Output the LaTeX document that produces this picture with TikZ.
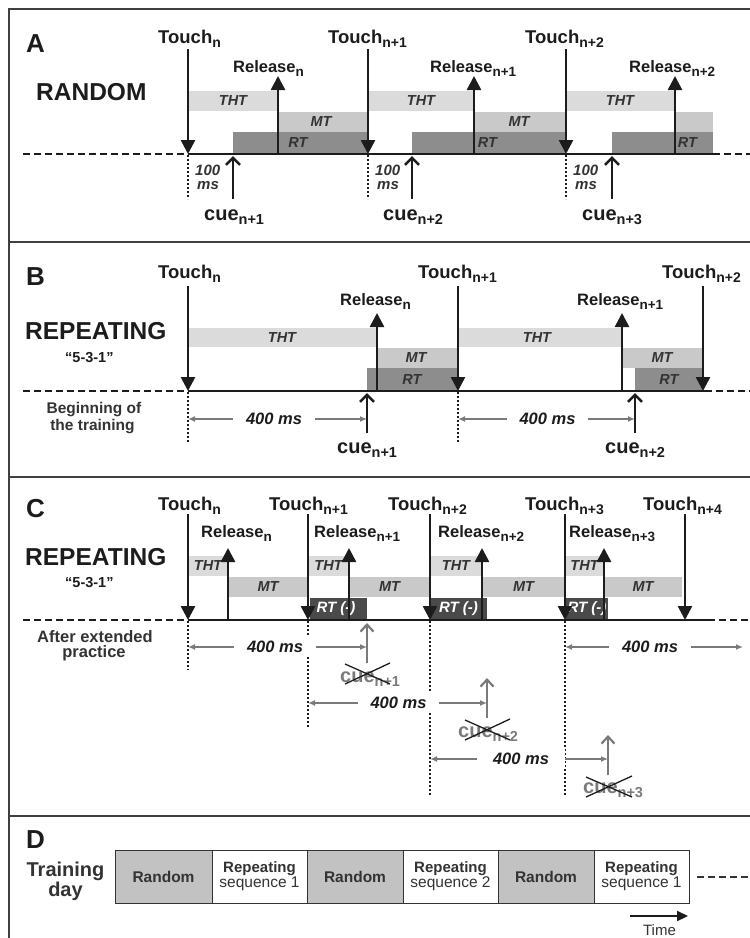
\documentclass[tikz,border=0pt]{standalone}
\usepackage{fontspec}
\setmainfont{Liberation Sans}
\usetikzlibrary{arrows.meta}
\definecolor{cTHT}{HTML}{DBDBDB}
\definecolor{cMT}{HTML}{C9C9C9}
\definecolor{cRT}{HTML}{8D8D8D}
\definecolor{cRTm}{HTML}{4A4A4A}
\definecolor{cInk}{HTML}{1C1C1C}
\definecolor{cDark}{HTML}{333333}
\definecolor{cGray}{HTML}{7A7A7A}
\definecolor{cBox}{HTML}{C2C2C2}
\definecolor{cFrame}{HTML}{404040}
\newcommand\subn[2]{\raisebox{-4pt}{\fontsize{#1}{#1}\selectfont #2}}
\newcommand\Tch[1]{Touch\subn{14}{#1}}
\newcommand\Rel[1]{Release\subn{13.5}{#1}}
\newcommand\Cue[1]{cue\subn{14.5}{#1}}
\tikzset{
  lab/.style={anchor=base west, inner sep=0pt, text=cInk},
  touchlab/.style={lab, font=\fontsize{18.5}{20}\selectfont\bfseries},
  rellab/.style={lab, font=\fontsize{16.5}{18}\selectfont\bfseries},
  cuelab/.style={lab, font=\fontsize{20}{22}\selectfont\bfseries},
  gcuelab/.style={cuelab, text=cGray},
  panel/.style={lab, font=\fontsize{26}{28}\selectfont\bfseries},
  cond/.style={lab, font=\fontsize{24.5}{26}\selectfont\bfseries},
  seqlab/.style={lab, font=\fontsize{14.5}{16}\selectfont\bfseries},
  notelab/.style={anchor=base, inner sep=0pt, text=cDark, font=\fontsize{15.5}{17}\selectfont\bfseries},
  notelabC/.style={notelab, font=\fontsize{16.5}{18}\selectfont\bfseries},
  hund/.style={lab, text=cDark, font=\fontsize{15}{16}\selectfont\bfseries\itshape},
  evarrow/.style={line width=2.6pt, draw=cInk, -{Triangle[length=14pt,width=14pt]}},
  cuearrow/.style={line width=2.6pt, draw=cInk, -{Straight Barb[length=7pt,width=14pt,line width=2.6pt]}},
  gcuearrow/.style={line width=2.2pt, draw=cGray, -{Straight Barb[length=7pt,width=13pt]}},
  axis/.style={line width=2.6pt, draw=cInk},
  axisdash/.style={line width=2.4pt, draw=cInk, dash pattern=on 7pt off 4pt},
  vdot/.style={line width=1.4pt, draw=cInk, dash pattern=on 2pt off 2pt},
  msarrow/.style={line width=1.6pt, draw=cGray, {Latex[length=7pt,width=6pt]}-{Latex[length=7pt,width=6pt]}},
  mslab/.style={fill=white, inner xsep=13pt, inner ysep=4pt, text=cInk, font=\fontsize{16.5}{18}\selectfont\bfseries\itshape},
  barlab/.style={inner sep=0pt, text=cDark, font=\fontsize{14.5}{16}\selectfont\bfseries\itshape},
  rtmlab/.style={barlab, text=white, font=\fontsize{15}{16}\selectfont\bfseries\itshape},
  xline/.style={line width=1.3pt, draw=cInk},
  frame/.style={line width=2pt, draw=cFrame},
  dbox/.style={draw=cDark, line width=1pt, inner sep=0pt, minimum height=53pt, text=cDark},
  rbox/.style={dbox, fill=cBox, font=\fontsize{15.5}{17}\selectfont\bfseries},
  sbox/.style={dbox, fill=white, align=center},
}
\begin{document}
\begin{tikzpicture}[x=1pt,y=-1pt]
\useasboundingbox (0,0) rectangle (750,938);

% ---------- frame ----------
\coordinate (fBL) at (9,938); \coordinate (fTL) at (9,9); \coordinate (fTR) at (750,9);
\draw[frame] (fBL) -- (fTL) -- (fTR);
\foreach \yy/\p in {242/ab,477/bc,816/cd} {
  \coordinate (s\p L) at (9,\yy); \coordinate (s\p R) at (750,\yy);
  \draw[frame] (s\p L) -- (s\p R);
}

% ================= PANEL A =================
\node[panel] (pA) at (26,52) {A};
\node[cond] (cA) at (36,100) {RANDOM};
% bars
\fill[cTHT] (188,91) rectangle (278,111);
\fill[cMT] (278,111.5) rectangle (368,132);
\fill[cRT] (233,132) rectangle (368,154);
\fill[cTHT] (368,91) rectangle (474,111);
\fill[cMT] (474,111.5) rectangle (566,132);
\fill[cRT] (412,132) rectangle (566,154);
\fill[cTHT] (566,91) rectangle (675,111);
\fill[cMT] (675,111.5) rectangle (713,132);
\fill[cRT] (612,132) rectangle (713,154);
\node[barlab] (AL1) at (233,101) {THT};
\node[barlab] (AL2) at (421,101) {THT};
\node[barlab] (AL3) at (620,101) {THT};
\node[barlab] (AL4) at (321,122) {MT};
\node[barlab] (AL5) at (519,122) {MT};
\node[barlab] (AL6) at (298,143) {RT};
\node[barlab] (AL7) at (487.5,143) {RT};
\node[barlab] (AL8) at (687.5,143) {RT};
% axis
\coordinate (Aax0) at (23,154); \coordinate (Aax1) at (188,154);
\coordinate (Aax2) at (713,154); \coordinate (Aax3) at (750,154);
\draw[axisdash] (Aax0) -- (Aax1); \draw[axis] (Aax1) -- (Aax2); \draw[axisdash] (Aax2) -- (Aax3);
% dotted + 100 ms
\foreach \x/\i in {188/0,368/1,566/2} {
  \coordinate (Adt\i) at (\x,155); \coordinate (Adb\i) at (\x,199);
  \draw[vdot] (Adt\i) -- (Adb\i);
  \node[hund] (Ah\i) at (\x+7,175) {100};
  \node[hund] (Am\i) at (\x+9,189) {ms};
}
% touch arrows
\foreach \x/\i in {188/0,368/1,566/2} {
  \coordinate (Ata\i) at (\x,49); \coordinate (Atb\i) at (\x,154);
  \draw[evarrow] (Ata\i) -- (Atb\i);
}
\node[touchlab] (AT0) at (158,43) {\Tch{n}};
\node[touchlab] (AT1) at (328,43) {\Tch{n+1}};
\node[touchlab] (AT2) at (525,43) {\Tch{n+2}};
% release arrows
\foreach \x/\i in {278/0,474/1,675/2} {
  \coordinate (Ara\i) at (\x,154); \coordinate (Arb\i) at (\x,76);
  \draw[evarrow] (Ara\i) -- (Arb\i);
}
\node[rellab] (AR0) at (233,72) {\Rel{n}};
\node[rellab] (AR1) at (430,72) {\Rel{n+1}};
\node[rellab] (AR2) at (629,72) {\Rel{n+2}};
% cue arrows
\foreach \x/\i in {233/0,412/1,612/2} {
  \coordinate (Aca\i) at (\x,199); \coordinate (Acb\i) at (\x,156);
  \draw[cuearrow] (Aca\i) -- (Acb\i);
}
\node[cuelab] (AC0) at (204,220) {\Cue{n+1}};
\node[cuelab] (AC1) at (383,220) {\Cue{n+2}};
\node[cuelab] (AC2) at (582,220) {\Cue{n+3}};

% ================= PANEL B =================
\node[panel] (pB) at (26,285) {B};
\node[cond] (cB) at (25,339) {REPEATING};
\node[seqlab] (qB) at (65,362) {“5-3-1”};
\node[notelab] (nB1) at (94,413) {Beginning of};
\node[notelab] (nB2) at (92.5,430) {the training};
% bars
\fill[cTHT] (188,328) rectangle (377,347);
\fill[cMT] (377,348) rectangle (458,368);
\fill[cRT] (367,368) rectangle (458,391);
\fill[cTHT] (458,328) rectangle (622,347);
\fill[cMT] (622,348) rectangle (703,368);
\fill[cRT] (635,368) rectangle (703,391);
\node[barlab] (BL1) at (282,338) {THT};
\node[barlab] (BL2) at (416,358) {MT};
\node[barlab] (BL3) at (412,380) {RT};
\node[barlab] (BL4) at (537,338) {THT};
\node[barlab] (BL5) at (662,358) {MT};
\node[barlab] (BL6) at (669,380) {RT};
% axis
\coordinate (Bax0) at (23,391); \coordinate (Bax1) at (188,391);
\coordinate (Bax2) at (705,391); \coordinate (Bax3) at (750,391);
\draw[axisdash] (Bax0) -- (Bax1); \draw[axis] (Bax1) -- (Bax2); \draw[axisdash] (Bax2) -- (Bax3);
% dotted
\foreach \x/\i in {188/0,458/1} {
  \coordinate (Bdt\i) at (\x,392); \coordinate (Bdb\i) at (\x,442);
  \draw[vdot] (Bdt\i) -- (Bdb\i);
}
% touch arrows
\foreach \x/\i in {188/0,458/1,703/2} {
  \coordinate (Bta\i) at (\x,286); \coordinate (Btb\i) at (\x,391);
  \draw[evarrow] (Bta\i) -- (Btb\i);
}
\node[touchlab] (BT0) at (158,278) {\Tch{n}};
\node[touchlab] (BT1) at (418,278) {\Tch{n+1}};
\node[touchlab] (BT2) at (662,278) {\Tch{n+2}};
% release arrows
\foreach \x/\i in {377/0,622/1} {
  \coordinate (Bra\i) at (\x,391); \coordinate (Brb\i) at (\x,313);
  \draw[evarrow] (Bra\i) -- (Brb\i);
}
\node[rellab] (BR0) at (340,305) {\Rel{n}};
\node[rellab] (BR1) at (577,305) {\Rel{n+1}};
% cue arrows
\foreach \x/\i in {367/0,635/1} {
  \coordinate (Bca\i) at (\x,433); \coordinate (Bcb\i) at (\x,393);
  \draw[cuearrow] (Bca\i) -- (Bcb\i);
}
\node[cuelab] (BC0) at (337,453) {\Cue{n+1}};
\node[cuelab] (BC1) at (605,453) {\Cue{n+2}};
% 400 ms
\coordinate (Bm0a) at (188,419); \coordinate (Bm0b) at (367,419);
\coordinate (Bm1a) at (458,419); \coordinate (Bm1b) at (635,419);
\draw[msarrow] (Bm0a) -- (Bm0b);
\draw[msarrow] (Bm1a) -- (Bm1b);
\node[mslab] (BM0) at (274,419) {400 ms};
\node[mslab] (BM1) at (547.5,419) {400 ms};

% ================= PANEL C =================
\node[panel] (pC) at (26,517) {C};
\node[cond] (cC) at (25,565) {REPEATING};
\node[seqlab] (qC) at (65,587) {“5-3-1”};
\node[notelabC] (nC1) at (95,642) {After extended};
\node[notelabC] (nC2) at (94,657) {practice};
% bars
\fill[cTHT] (188,556) rectangle (228,576);
\fill[cTHT] (308,556) rectangle (349,576);
\fill[cTHT] (430,556) rectangle (482,576);
\fill[cTHT] (565,556) rectangle (604,576);
\fill[cMT] (228,577) rectangle (308,597);
\fill[cMT] (349,577) rectangle (430,597);
\fill[cMT] (482,577) rectangle (565,597);
\fill[cMT] (604,577) rectangle (682,597);
\fill[cRTm] (310,598) rectangle (367,620);
\fill[cRTm] (430,598) rectangle (487,620);
\fill[cRTm] (565,598) rectangle (608,620);
\node[barlab] (CL1) at (208,566) {THT};
\node[barlab] (CL2) at (328.5,566) {THT};
\node[barlab] (CL3) at (456,566) {THT};
\node[barlab] (CL4) at (584.5,566) {THT};
\node[barlab] (CL5) at (268,587) {MT};
\node[barlab] (CL6) at (389.5,587) {MT};
\node[barlab] (CL7) at (523.5,587) {MT};
\node[barlab] (CL8) at (643,587) {MT};
\node[rtmlab] (CL9) at (336,609) {RT (-)};
\node[rtmlab] (CL10) at (458.5,609) {RT (-)};
\node[rtmlab] (CL11) at (587,609) {RT (-)};
% axis
\coordinate (Cax0) at (23,620); \coordinate (Cax1) at (188,620);
\coordinate (Cax2) at (708,620); \coordinate (Cax3) at (750,620);
\draw[axisdash] (Cax0) -- (Cax1); \draw[axis] (Cax1) -- (Cax2); \draw[axisdash] (Cax2) -- (Cax3);
% dotted
\foreach \x/\b/\i in {188/670/0,308/727/1,430/795/2,565/795/3} {
  \coordinate (Cdt\i) at (\x,621); \coordinate (Cdb\i) at (\x,\b);
  \draw[vdot] (Cdt\i) -- (Cdb\i);
}
% touch arrows
\foreach \x/\i in {188/0,308/1,430/2,565/3,685/4} {
  \coordinate (Cta\i) at (\x,514); \coordinate (Ctb\i) at (\x,620);
  \draw[evarrow] (Cta\i) -- (Ctb\i);
}
\node[touchlab] (CT0) at (158,510) {\Tch{n}};
\node[touchlab] (CT1) at (269,510) {\Tch{n+1}};
\node[touchlab] (CT2) at (388,510) {\Tch{n+2}};
\node[touchlab] (CT3) at (525,510) {\Tch{n+3}};
\node[touchlab] (CT4) at (643,510) {\Tch{n+4}};
% release arrows
\foreach \x/\i in {228/0,349/1,482/2,604/3} {
  \coordinate (Cra\i) at (\x,620); \coordinate (Crb\i) at (\x,548);
  \draw[evarrow] (Cra\i) -- (Crb\i);
}
\node[rellab] (CR0) at (201,537) {\Rel{n}};
\node[rellab] (CR1) at (314,537) {\Rel{n+1}};
\node[rellab] (CR2) at (438,537) {\Rel{n+2}};
\node[rellab] (CR3) at (569,537) {\Rel{n+3}};
% 400 ms arrows
\coordinate (Cm0a) at (188,647); \coordinate (Cm0b) at (367,647);
\coordinate (Cm1a) at (308,703); \coordinate (Cm1b) at (487,703);
\coordinate (Cm2a) at (430,759); \coordinate (Cm2b) at (608,759);
\coordinate (Cm3a) at (565,647); \coordinate (Cm3b) at (743,647);
\draw[msarrow] (Cm0a) -- (Cm0b);
\draw[msarrow] (Cm1a) -- (Cm1b);
\draw[msarrow] (Cm2a) -- (Cm2b);
\draw[msarrow] (Cm3a) -- (Cm3b);
\node[mslab] (CM0) at (275,647) {400 ms};
\node[mslab] (CM1) at (398.5,703) {400 ms};
\node[mslab, inner xsep=16pt] (CM2) at (521,759) {400 ms};
\node[mslab] (CM3) at (650,647) {400 ms};
% gray (absent) cues
\coordinate (Cca0) at (367,663); \coordinate (Ccb0) at (367,623);
\coordinate (Cca1) at (487,718); \coordinate (Ccb1) at (487,678);
\coordinate (Cca2) at (608,775); \coordinate (Ccb2) at (608,735);
\draw[gcuearrow] (Cca0) -- (Ccb0);
\draw[gcuearrow] (Cca1) -- (Ccb1);
\draw[gcuearrow] (Cca2) -- (Ccb2);
\node[gcuelab] (CC0) at (340,682) {\Cue{n+1}};
\node[gcuelab] (CC1) at (458,737) {\Cue{n+2}};
\node[gcuelab] (CC2) at (583,793) {\Cue{n+3}};
\draw[xline] (345,684) -- (390,663); \draw[xline] (345,664) -- (390,684);
\draw[xline] (465,740) -- (510,719); \draw[xline] (465,720) -- (510,740);
\draw[xline] (586,797) -- (632,776); \draw[xline] (586,777) -- (632,797);

% ================= PANEL D =================
\node[panel] (pD) at (26,848) {D};
\node[anchor=base, inner sep=0pt, text=cDark, font=\fontsize{20}{22}\selectfont\bfseries] (tD1) at (65.5,876) {Training};
\node[anchor=base, inner sep=0pt, text=cDark, font=\fontsize{20}{22}\selectfont\bfseries] (tD2) at (65.5,896) {day};
\node[rbox, minimum width=97pt] (D1) at (163.5,876.5) {Random};
\node[sbox, minimum width=95pt] (D2) at (259.5,876.5) {{\fontsize{15}{16}\selectfont\bfseries Repeating}\\{\fontsize{15.5}{16}\selectfont sequence 1}};
\node[rbox, minimum width=96pt] (D3) at (355,876.5) {Random};
\node[sbox, minimum width=95pt] (D4) at (450.5,876.5) {{\fontsize{15}{16}\selectfont\bfseries Repeating}\\{\fontsize{15.5}{16}\selectfont sequence 2}};
\node[rbox, minimum width=96pt] (D5) at (546,876.5) {Random};
\node[sbox, minimum width=95pt] (D6) at (641.5,876.5) {{\fontsize{15}{16}\selectfont\bfseries Repeating}\\{\fontsize{15.5}{16}\selectfont sequence 1}};
\coordinate (Dd0) at (697,877); \coordinate (Dd1) at (750,877);
\draw[line width=2pt, draw=cDark, dash pattern=on 7pt off 4pt] (Dd0) -- (Dd1);
\coordinate (Tm0) at (630,916); \coordinate (Tm1) at (688,916);
\draw[line width=2.2pt, draw=cInk, -{Triangle[length=11pt,width=10pt]}] (Tm0) -- (Tm1);
\node[anchor=base, inner sep=0pt, text=cDark, font=\fontsize{15}{16}\selectfont] (tTime) at (659.5,935) {Time};
\end{tikzpicture}
\end{document}
